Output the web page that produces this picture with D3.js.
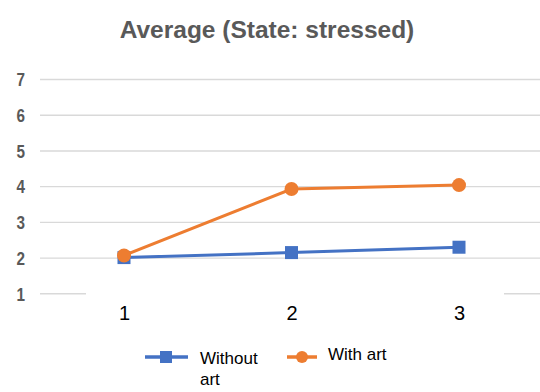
<!DOCTYPE html>
<html>
<head>
<meta charset="utf-8">
<script src="https://cdn.jsdelivr.net/npm/d3@7"></script>
<style>
  html, body { margin: 0; padding: 0; background: #fff; }
  svg { display: block; }
</style>
</head>
<body>
<svg id="chart" width="540" height="392"></svg>
<script>
// Session numbers on the x axis
const sessions = [1, 2, 3];
// Average score per session, state: stressed
const withoutArt = [2.0, 2.14, 2.29];
const withArt = [2.06, 3.92, 4.03];
// Y axis ticks
const yTicks = [1, 2, 3, 4, 5, 6, 7];
const seriesNames = ["Without art", "With art"];

const svg = d3.select("#chart");
const W = 540, H = 392;
const blue = "#4472C4", orange = "#ED7D31";

const x = d3.scalePoint().domain(sessions).range([124, 459]);
const y = d3.scaleLinear().domain([1, 7]).range([293.3, 79]);

// Title
svg.append("text")
  .attr("x", 267).attr("y", 38)
  .attr("text-anchor", "middle")
  .attr("font-family", "Liberation Sans, Arial, sans-serif")
  .attr("font-weight", "bold")
  .attr("font-size", 24.5)
  .attr("fill", "#595959")
  .text("Average (State: stressed)");

// Horizontal gridlines
const yAxis = d3.axisLeft(y).tickValues(yTicks).tickSize(-(W - 40)).tickPadding(15).tickFormat(d3.format("d"));
const gy = svg.append("g").attr("transform", "translate(40,0)").call(yAxis);
gy.select(".domain").remove();
gy.selectAll(".tick line").attr("stroke", "#d9d9d9").attr("stroke-width", 1.4);
gy.selectAll(".tick text")
  .attr("font-family", "Liberation Sans, Arial, sans-serif")
  .attr("font-weight", "bold")
  .attr("font-size", 19)
  .attr("textLength", 8.5)
  .attr("lengthAdjust", "spacingAndGlyphs")
  .attr("dy", "0.36em")
  .attr("fill", "#595959");

// Category label band (opaque, sits over the lowest gridline)
svg.append("rect")
  .attr("x", 86).attr("y", y(1) - 1.5)
  .attr("width", 418).attr("height", 40)
  .attr("fill", "#fff");

const gx = svg.append("g").attr("transform", `translate(0,${y(1)})`)
  .call(d3.axisBottom(x).tickSize(0).tickPadding(13));
gx.select(".domain").remove();
gx.selectAll(".tick text")
  .attr("font-family", "Liberation Sans, Arial, sans-serif")
  .attr("font-size", 20)
  .attr("fill", "#000");

const line = d3.line().x((d, i) => x(sessions[i])).y(d => y(d));

// Without art series
svg.append("path").datum(withoutArt)
  .attr("d", line).attr("fill", "none")
  .attr("stroke", blue).attr("stroke-width", 3);
svg.selectAll(".sq").data(withoutArt).enter().append("rect")
  .attr("x", (d, i) => x(sessions[i]) - 6.5)
  .attr("y", d => y(d) - 6.5)
  .attr("width", 13).attr("height", 13)
  .attr("fill", blue);

// With art series
svg.append("path").datum(withArt)
  .attr("d", line).attr("fill", "none")
  .attr("stroke", orange).attr("stroke-width", 3);
svg.selectAll(".dot").data(withArt).enter().append("circle")
  .attr("cx", (d, i) => x(sessions[i]))
  .attr("cy", d => y(d))
  .attr("r", 7)
  .attr("fill", orange);

// Legend
const lg = svg.append("g").attr("font-family", "Liberation Sans, Arial, sans-serif").attr("font-size", 17).attr("fill", "#000");
lg.append("line").attr("x1", 145).attr("x2", 188).attr("y1", 357).attr("y2", 357)
  .attr("stroke", blue).attr("stroke-width", 3.5);
lg.append("rect").attr("x", 160).attr("y", 351).attr("width", 12).attr("height", 12).attr("fill", blue);
const t1 = lg.append("text").attr("x", 200).attr("y", 364);
t1.append("tspan").attr("x", 200).text("Without");
t1.append("tspan").attr("x", 200).attr("dy", 21).text("art");

lg.append("line").attr("x1", 287).attr("x2", 317).attr("y1", 357).attr("y2", 357)
  .attr("stroke", orange).attr("stroke-width", 3.5);
lg.append("circle").attr("cx", 302).attr("cy", 357).attr("r", 6).attr("fill", orange);
lg.append("text").attr("x", 328).attr("y", 360).text(seriesNames[1]);
</script>
</body>
</html>
